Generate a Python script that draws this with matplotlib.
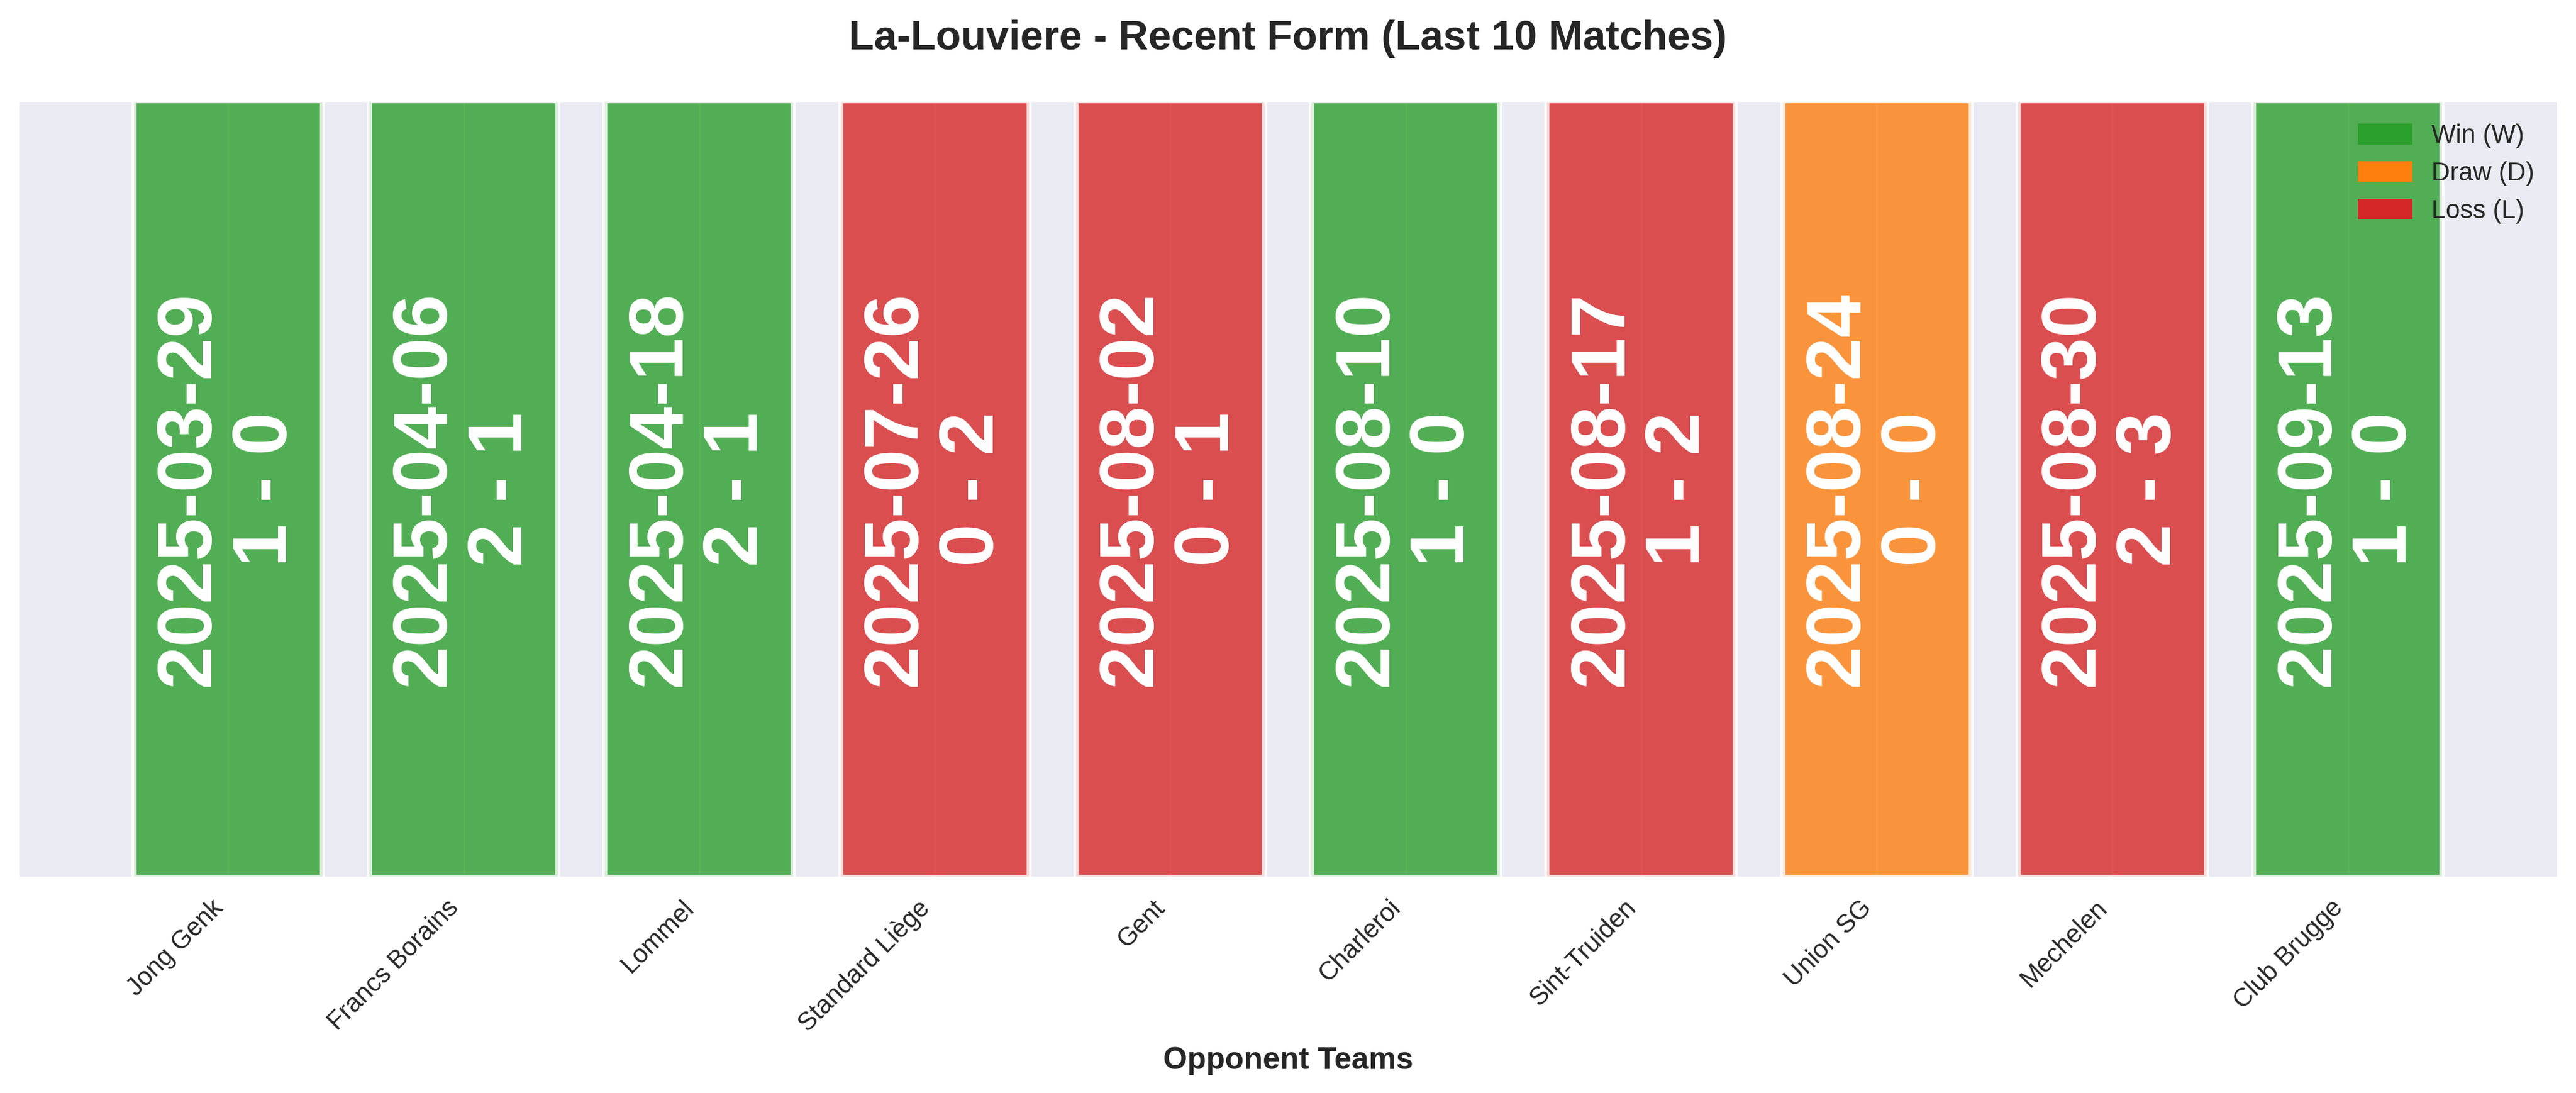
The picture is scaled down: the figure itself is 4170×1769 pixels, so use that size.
import matplotlib
matplotlib.use("Agg")
import matplotlib.pyplot as plt
import seaborn as sns
from matplotlib.patches import Patch

# recent matches (oldest first)
opponents = ["Jong Genk", "Francs Borains", "Lommel", "Standard Liège", "Gent",
             "Charleroi", "Sint-Truiden", "Union SG", "Mechelen", "Club Brugge"]
dates = ["2025-03-29", "2025-04-06", "2025-04-18", "2025-07-26", "2025-08-02",
         "2025-08-10", "2025-08-17", "2025-08-24", "2025-08-30", "2025-09-13"]
goals_for = [1, 2, 2, 0, 0, 1, 1, 0, 2, 1]
goals_against = [0, 1, 1, 2, 1, 0, 2, 0, 3, 0]
results = ["W", "W", "W", "L", "L", "W", "L", "D", "L", "W"]

result_colors = {"W": "#2ca02c", "D": "#ff7f0e", "L": "#d62728"}
result_names = {"W": "Win (W)", "D": "Draw (D)", "L": "Loss (L)"}

sns.set_style("darkgrid")
plt.rcParams["font.family"] = ["Liberation Sans", "DejaVu Sans"]

fig = plt.figure(figsize=(4170 / 300, 1769 / 300), dpi=300)
ax = fig.add_axes([30 / 4170, 1 - 1420 / 1769, 4110 / 4170, 1257 / 1769])

x = list(range(len(opponents)))
colors = [result_colors[r] for r in results]
ax.bar(x, [1] * len(x), width=0.8, color=colors, alpha=0.8,
       edgecolor="white", linewidth=2)

# date and score written inside each bar
for i in x:
    ax.text(i, 0.5, f"{dates[i]}\n{goals_for[i]} - {goals_against[i]}",
            ha="center", va="center", rotation=90, color="white",
            fontsize=30, fontweight="bold", linespacing=1.1)

ax.set_ylim(0, 1)
ax.set_yticks([])
ax.set_xticks(x)
ax.set_xticklabels(opponents, rotation=45, ha="right", fontsize=10)
ax.set_xlabel("Opponent Teams", fontsize=12, fontweight="bold")
ax.set_title("La-Louviere - Recent Form (Last 10 Matches)",
             fontsize=16, fontweight="bold", pad=20)

handles = [Patch(color=result_colors[k], label=result_names[k]) for k in ["W", "D", "L"]]
ax.legend(handles=handles, loc="upper right", fontsize=10, frameon=False)

fig.savefig("out.png", dpi=300)
